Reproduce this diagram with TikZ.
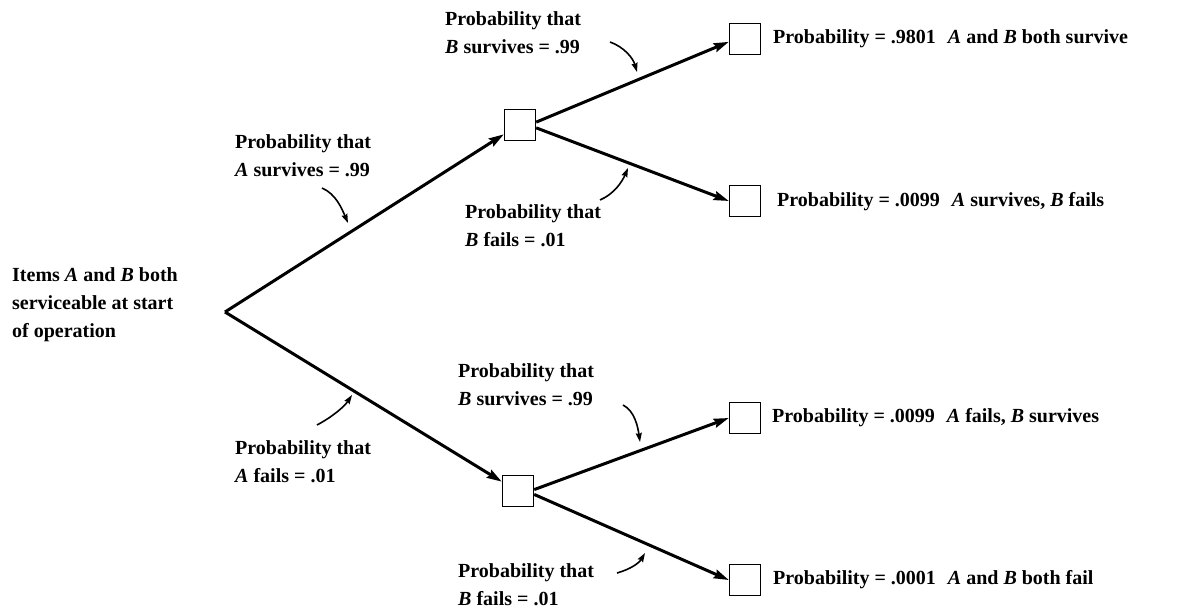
\documentclass[tikz,border=0pt]{standalone}
\usepackage{fontspec}
\setmainfont{Liberation Serif}
\usetikzlibrary{arrows.meta}
\begin{document}
\begin{tikzpicture}[x=1pt,y=-1pt,
  every node/.style={font=\fontsize{20}{28}\selectfont\bfseries},
  lbl/.style={align=left,anchor=west,inner sep=0pt},
  box/.style={draw,line width=1.4pt,minimum size=31pt,inner sep=0pt},
  main/.style={line width=3pt,-{Stealth[length=15pt,width=9pt,inset=2pt]}},
  curv/.style={line width=1.6pt,-{Stealth[length=9pt,width=6pt,inset=1pt]}}]
\useasboundingbox (0,0) rectangle (1198,609);
% root
\coordinate (root) at (225,312);
\node[lbl] (rt) at (12,305) {Items \textit{A} and \textit{B} both\\serviceable at start\\of operation};
% boxes
\node[box] (m1) at (520,125) {};
\node[box] (m2) at (518,491) {};
\node[box] (r1) at (745,39) {};
\node[box] (r2) at (745,201) {};
\node[box] (r3) at (745,418) {};
\node[box] (r4) at (745,580) {};
% main edges
\draw[main] (root) -- (m1.210);
\draw[main] (root) -- (m2.150);
\draw[main] (m1.10) -- (r1.190);
\draw[main] (m1.-10) -- (r2.west);
\draw[main] (m2.5) -- (r3.west);
\draw[main] (m2.-12) -- (r4.west);
% result texts
\node[lbl] (t1) at (773,39) {Probability = .9801\hspace{0.6em}\textit{A} and \textit{B} both survive};
\node[lbl] (t2) at (777,202) {Probability = .0099\hspace{0.6em}\textit{A} survives, \textit{B} fails};
\node[lbl] (t3) at (772,418) {Probability = .0099\hspace{0.6em}\textit{A} fails, \textit{B} survives};
\node[lbl] (t4) at (773,580) {Probability = .0001\hspace{0.6em}\textit{A} and \textit{B} both fail};
% branch labels
\node[lbl] (la1) at (235,156) {Probability that\\\textit{A} survives = .99};
\node[lbl] (la2) at (235,462) {Probability that\\\textit{A} fails = .01};
\node[lbl] (lb1) at (445,33) {Probability that\\\textit{B} survives = .99};
\node[lbl] (lb2) at (465,226) {Probability that\\\textit{B} fails = .01};
\node[lbl] (lb3) at (458,385) {Probability that\\\textit{B} survives = .99};
\node[lbl] (lb4) at (458,585) {Probability that\\\textit{B} fails = .01};
% small curved arrows
\coordinate (a1s) at (322,188); \coordinate (a1e) at (348,223);
\coordinate (a2s) at (317,425); \coordinate (a2e) at (352,395);
\coordinate (b1s) at (610,42);  \coordinate (b1e) at (637,72);
\coordinate (b2s) at (600,200); \coordinate (b2e) at (628,168);
\coordinate (b3s) at (623,405); \coordinate (b3e) at (640,442);
\coordinate (b4s) at (617,573); \coordinate (b4e) at (645,553);
\draw[curv] (a1s) .. controls +(14,6) and +(-6,-14) .. (a1e);
\draw[curv] (a2s) .. controls +(15,-8) and +(-8,12) .. (a2e);
\draw[curv] (b1s) .. controls +(14,5) and +(-4,-14) .. (b1e);
\draw[curv] (b2s) .. controls +(14,-6) and +(-6,14) .. (b2e);
\draw[curv] (b3s) .. controls +(12,6) and +(-2,-14) .. (b3e);
\draw[curv] (b4s) .. controls +(14,-4) and +(-6,10) .. (b4e);
\end{tikzpicture}
\end{document}
